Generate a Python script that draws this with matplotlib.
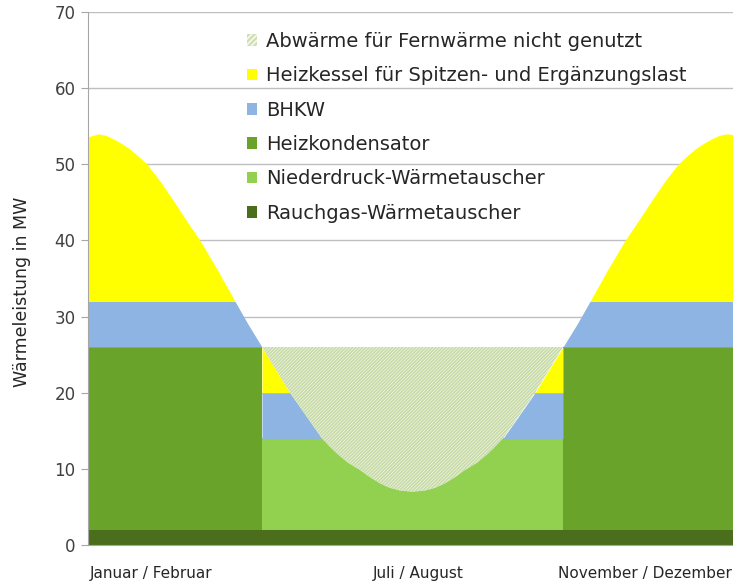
import numpy as np
import matplotlib
matplotlib.use("Agg")
import matplotlib.pyplot as plt
from matplotlib.patches import Patch

plt.rcParams['font.family'] = ['DejaVu Sans']
plt.rcParams['hatch.linewidth'] = 1.2

# Demand curve (total heat demand, MW); x in months 0..12
x_month = [0.000, 0.186, 0.335, 0.484, 0.633, 0.781, 0.930, 1.098, 1.340, 1.581,
           1.823, 2.084, 2.419, 2.735, 2.977, 3.237, 3.498, 3.758, 4.056, 4.353,
           4.502, 4.633, 4.837, 5.060, 5.247, 5.433, 5.619, 5.805, 6.037,
           6.270, 6.456, 6.642, 6.828, 7.014, 7.237, 7.442, 7.572, 7.721, 8.019,
           8.316, 8.577, 8.837, 9.098, 9.340, 9.656, 9.991, 10.251, 10.493, 10.735,
           10.977, 11.144, 11.293, 11.442, 11.591, 11.740, 11.888, 12.000]
demand = [53.6, 54.0, 53.8, 53.3, 52.7, 52.0, 51.1, 50.0, 47.8, 45.3,
          42.7, 40.0, 36.0, 32.0, 29.0, 26.0, 23.0, 20.0, 17.0, 14.0,
          12.9, 12.0, 10.8, 9.85, 8.9, 8.1, 7.5, 7.15, 7.0,
          7.15, 7.5, 8.1, 8.9, 9.85, 10.8, 12.0, 12.9, 14.0, 17.0,
          20.0, 23.0, 26.0, 29.0, 32.0, 36.0, 40.0, 42.7, 45.3, 47.8,
          50.0, 51.1, 52.0, 52.7, 53.3, 53.8, 54.0, 53.9]

# summer period boundaries (months)
summer_start = 3.237
summer_end = 8.837

# capacity levels (MW)
rauchgas_top = 2
heizkond_top = 26
bhkw_top_winter = 32
niederdruck_top = 14
bhkw_top_summer = 20
abwaerme_top = 26

cat_pos = [1.18, 6.15, 10.36]
cat_labels = ["Januar / Februar", "Juli / August", "November / Dezember"]

legend_labels = ["Abwärme für Fernwärme nicht genutzt",
                 "Heizkessel für Spitzen- und Ergänzungslast",
                 "BHKW", "Heizkondensator",
                 "Niederdruck-Wärmetauscher", "Rauchgas-Wärmetauscher"]

c_yellow = "#FFFF00"
c_blue = "#8DB4E2"
c_hk = "#6AA329"
c_nd = "#92D050"
c_rg = "#4A6E1C"
c_hatch = "#C8DBA6"
c_hatch_bg = "#F0F5E8"

x = np.array(x_month)
D = np.array(demand)
winter_l = x <= summer_start
winter_r = x >= summer_end
summer = (x >= summer_start) & (x <= summer_end)

fig = plt.figure(figsize=(7.33, 5.86), dpi=100)
ax = fig.add_axes([88/733, 1-545/586, 1-88/733, (545-12)/586])

kw = dict(linewidth=0, zorder=2)
ax.fill_between(x, 0, rauchgas_top, color=c_rg, **kw)
for m in (winter_l, winter_r):
    ax.fill_between(x, rauchgas_top, heizkond_top, where=m, color=c_hk, **kw)
    ax.fill_between(x, heizkond_top, np.clip(D, heizkond_top, bhkw_top_winter), where=m, color=c_blue, **kw)
    ax.fill_between(x, bhkw_top_winter, np.maximum(D, bhkw_top_winter), where=m, color=c_yellow, **kw)
ax.fill_between(x, rauchgas_top, niederdruck_top, where=summer, color=c_nd, **kw)
ax.fill_between(x, niederdruck_top, np.clip(D, niederdruck_top, bhkw_top_summer), where=summer, color=c_blue, **kw)
ax.fill_between(x, bhkw_top_summer, np.clip(D, bhkw_top_summer, abwaerme_top), where=summer, color=c_yellow, **kw)
ax.fill_between(x, D, abwaerme_top, where=summer, facecolor=c_hatch_bg, edgecolor=c_hatch,
                hatch="/" * 10, linewidth=0, zorder=2)

ax.set_xlim(0, 12)
ax.set_ylim(0, 70)
ax.set_yticks(range(0, 71, 10))
ax.yaxis.grid(True, color="#BFBFBF", linewidth=1)
ax.set_axisbelow(True)
ax.set_xticks(cat_pos)
ax.set_xticklabels(cat_labels)
ax.tick_params(axis='x', length=0, pad=15, labelsize=11, labelcolor="#262626")
ax.tick_params(axis='y', length=5, color="#A6A6A6", labelsize=12, labelcolor="#404040", pad=4)
for s in ("top", "right"):
    ax.spines[s].set_visible(False)
ax.spines['left'].set_color("#A6A6A6")
ax.spines['bottom'].set_color("#A6A6A6")
ax.set_ylabel("Wärmeleistung in MW", fontsize=12.5, color="#262626")
ax.yaxis.set_label_coords((31-88)/645, (545-292)/533)

handles = [Patch(facecolor=c_hatch_bg, edgecolor=c_hatch, hatch="/" * 6, linewidth=0),
           Patch(facecolor=c_yellow), Patch(facecolor=c_blue), Patch(facecolor=c_hk),
           Patch(facecolor=c_nd), Patch(facecolor=c_rg)]
leg = fig.legend(handles, legend_labels, loc="upper left", bbox_to_anchor=(247/733, 1-32/586),
                 frameon=False, fontsize=14, handlelength=0.53, handleheight=0.53,
                 handletextpad=0.45, labelspacing=0.79, borderaxespad=0, borderpad=0)
for t in leg.get_texts():
    t.set_color("#262626")

fig.savefig("out.png", dpi=100)
